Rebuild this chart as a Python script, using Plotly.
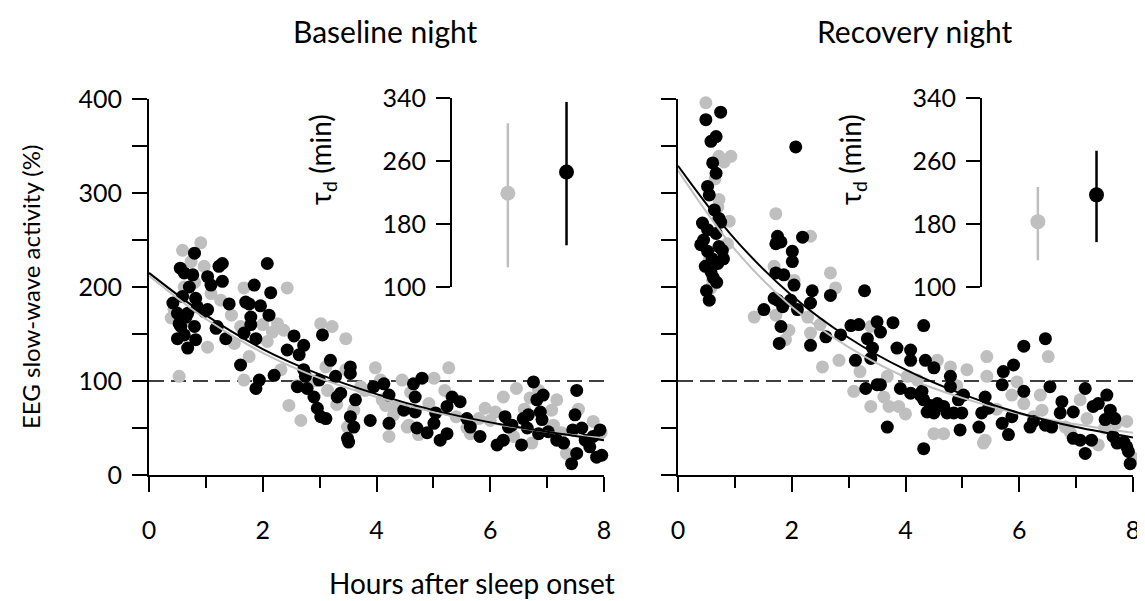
import plotly.graph_objects as go

# ---------------- data ----------------
# Baseline night, black series (hours, SWA %)
base_black_x = [0.80,0.55,0.62,0.77,0.71,1.03,1.09,1.23,1.29,1.29,2.08,1.85,2.14,0.42,0.59,0.82,0.85,1.03,0.50,0.68,
                0.53,0.80,1.41,1.70,1.76,1.96,2.11,1.79,1.79,1.18,0.50,0.62,0.82,1.67,1.88,1.35,2.55,2.72,3.05,
                0.65,0.56,0.68,0.97,1.20,1.61,1.94,1.88,2.20,2.43,2.64,3.19,2.72,2.75,2.99,2.61,2.78,2.90,3.28,
                3.54,3.54,3.31,3.37,3.63,2.96,3.02,3.11,3.54,3.60,3.49,3.89,3.95,4.13,4.22,4.65,4.80,4.68,4.48,
                4.22,4.71,4.89,5.04,5.01,3.51,4.68,5.12,5.24,5.33,5.47,5.59,5.24,5.65,5.82,6.12,6.23,6.26,6.32,
                6.38,6.55,6.58,6.65,6.67,6.76,6.82,6.93,6.88,6.91,6.85,7.02,7.17,7.29,7.43,7.49,7.52,7.45,7.52,
                7.67,7.75,7.87,7.96,7.93,7.81,7.61]
base_black_y = [236,220,215,213,200,211,202,222,225,206,225,202,194,183,190,188,179,176,172,172,
                161,158,182,184,182,180,170,168,160,156,145,149,144,151,145,145,148,138,149,
                168,158,135,174,158,117,101,92,106,133,128,122,112,105,101,94,92,83,105,
                115,108,83,87,80,71,62,60,62,51,39,58,94,97,85,97,103,83,69,
                55,50,45,66,55,35,67,37,73,83,78,60,44,51,41,32,37,62,51,
                53,32,60,50,64,99,80,85,67,59,44,46,37,34,12,64,90,48,23,
                37,30,19,21,48,41,50]

# Baseline night, grey series
base_grey_x = [0.59,0.91,0.74,0.97,0.62,1.09,1.26,0.39,0.65,1.67,2.43,1.61,2.26,2.37,2.17,3.02,1.03,2.08,0.44,
               0.53,1.76,1.67,2.32,2.46,2.67,3.22,3.46,3.11,3.14,3.46,3.60,3.72,3.98,4.07,4.16,4.45,4.30,5.01,
               4.92,4.54,3.49,5.27,4.22,4.57,4.74,4.10,4.36,5.59,6.46,6.23,5.91,6.09,6.70,6.85,7.17,7.08,7.11,
               6.73,7.34,7.81,5.65,6.41,7.55,7.95,7.25,6.00,5.80,2.00,1.45,0.80,1.50,2.90,3.80,4.60,5.40,5.20,
               6.60,3.30,2.60]
base_grey_y = [239,247,227,222,200,193,186,167,165,199,199,158,161,154,152,161,136,142,176,
               105,126,101,112,74,58,158,145,115,90,112,69,94,114,101,74,101,64,103,
               76,51,51,114,41,53,43,80,73,50,92,83,71,67,82,90,80,69,53,
               34,23,57,44,41,70,45,45,58,60,160,170,205,140,100,90,88,62,90,
               70,75,95]

# Recovery night, black series
rec_black_x = [0.75,0.49,0.67,0.58,2.07,0.61,0.67,0.52,0.55,0.64,0.72,0.43,0.52,0.67,0.72,0.52,0.78,0.58,0.55,
               1.75,1.72,2.19,2.01,2.01,1.72,1.86,2.04,1.69,2.36,2.68,3.28,0.75,1.81,1.75,1.51,1.84,1.98,2.10,
               2.33,1.81,1.78,2.33,2.60,2.86,3.04,3.18,3.33,3.42,3.12,3.39,3.50,3.56,3.78,3.85,4.09,4.09,4.32,
               4.35,4.50,3.30,3.50,3.56,3.91,4.09,4.26,4.32,4.44,4.56,4.67,4.38,4.50,4.73,4.85,4.99,4.79,4.79,
               5.02,4.96,3.68,4.29,4.93,5.29,5.34,5.40,4.32,6.46,6.08,5.90,5.72,5.70,6.08,6.54,5.46,5.70,5.87,
               5.81,6.19,6.25,6.46,6.57,6.72,6.75,6.95,6.95,7.07,7.16,7.16,7.27,7.30,7.39,7.54,7.60,7.68,7.51,
               7.65,7.72,7.84,7.89,7.95,7.92,0.45,0.60,0.70,0.48,0.80,0.62,0.40,0.50,0.68]
rec_black_y = [386,378,360,355,349,332,321,307,298,282,273,268,261,257,243,238,239,216,186,
               254,246,253,238,227,215,213,202,188,196,191,196,269,248,186,176,179,186,176,
               183,158,140,138,147,149,159,160,145,135,122,124,163,152,162,135,133,122,159,
               122,114,92,96,96,92,87,85,80,74,76,73,67,66,66,66,66,105,94,
               85,48,51,89,80,51,66,83,28,145,137,117,110,96,89,94,71,55,62,
               43,51,57,53,51,66,78,67,39,37,92,23,37,73,76,85,69,60,59,
               41,34,35,30,12,25,250,230,225,222,230,210,245,196,205]

# Recovery night, grey series
rec_grey_x = [0.49,0.72,0.93,0.81,0.72,0.70,0.87,0.55,0.61,0.58,1.72,2.33,1.69,2.68,2.77,1.34,1.72,1.95,2.33,
              2.54,2.83,2.28,2.04,1.89,3.09,3.39,3.62,3.71,3.88,3.68,4.03,4.56,4.79,4.50,4.67,5.08,5.43,5.43,
              5.37,3.39,4.21,6.51,5.87,6.08,6.37,6.40,6.25,5.40,5.96,7.07,6.81,7.39,7.89,8.00,7.77,7.19,0.65,
              0.90,2.50,3.20,4.00,4.90,5.60,6.90,7.50,7.70]
rec_grey_y = [396,339,339,333,293,285,246,229,207,199,278,254,222,215,199,168,170,154,151,
              115,122,168,207,144,89,73,83,73,73,105,105,122,115,44,44,112,126,105,
              34,158,101,126,85,76,85,69,62,37,99,80,51,32,57,18,35,60,315,
              270,160,110,65,95,70,45,50,55]

# Fitted decay curves, values read at whole hours
fit_hours = [0, 1, 2, 3, 4, 5, 6, 7, 8]
base_fit_black = [215, 170, 134, 107, 86, 69, 56, 46, 37]
base_fit_grey = [212, 166, 130, 103, 83, 67, 55, 46, 39]
rec_fit_black = [329, 251, 191, 146, 112, 86, 66, 51, 40]
rec_fit_grey = [324, 240, 179, 136, 104, 82, 65, 54, 45]

ref_hours = [0, 8]
ref_level = [100, 100]

# Inset: decay time constant tau_d (min), mean with lower/upper bounds
inset_pos = [1.0, 2.05]
base_tau = [219, 246]
base_tau_low = [125, 153]
base_tau_high = [308, 335]
rec_tau = [183, 217]
rec_tau_low = [134, 157]
rec_tau_high = [227, 273]

GREY = "#bfbfbf"
BLACK = "#000000"
FONT = "Lato"

# page body adds an 8 px margin, so the figure fills the rest of the window
OFF = 8
W, H = 1145 - OFF, 601 - OFF
def fx(px):
    return (px - OFF) / W
def fy(py):
    return 1 - (py - OFF) / H

fig = go.Figure()

def add_panel(xa, ya, bx, by, gx, gy, fb, fg):
    fig.add_trace(go.Scatter(x=ref_hours, y=ref_level, mode="lines",
                             line=dict(color=BLACK, width=1.4, dash="15px,7px"),
                             xaxis=xa, yaxis=ya, showlegend=False, hoverinfo="skip"))
    fig.add_trace(go.Scatter(x=gx, y=gy, mode="markers", cliponaxis=False,
                             marker=dict(color=GREY, size=13, line=dict(width=0)),
                             xaxis=xa, yaxis=ya, showlegend=False))
    fig.add_trace(go.Scatter(x=bx, y=by, mode="markers", cliponaxis=False,
                             marker=dict(color=BLACK, size=13, line=dict(width=0)),
                             xaxis=xa, yaxis=ya, showlegend=False))
    fig.add_trace(go.Scatter(x=fit_hours, y=fg, mode="lines", line_shape="spline",
                             line=dict(color=GREY, width=2),
                             xaxis=xa, yaxis=ya, showlegend=False))
    fig.add_trace(go.Scatter(x=fit_hours, y=fb, mode="lines", line_shape="spline",
                             line=dict(color=BLACK, width=2),
                             xaxis=xa, yaxis=ya, showlegend=False))

add_panel("x", "y", base_black_x, base_black_y, base_grey_x, base_grey_y, base_fit_black, base_fit_grey)
add_panel("x2", "y2", rec_black_x, rec_black_y, rec_grey_x, rec_grey_y, rec_fit_black, rec_fit_grey)

def add_inset(xa, ya, tau, lo, hi):
    for i, col in enumerate([GREY, BLACK]):
        fig.add_trace(go.Scatter(
            x=[inset_pos[i]], y=[tau[i]], mode="markers", cliponaxis=False,
            marker=dict(color=col, size=15, line=dict(width=0)),
            error_y=dict(type="data", symmetric=False,
                         array=[hi[i] - tau[i]], arrayminus=[tau[i] - lo[i]],
                         color=col, thickness=2.5, width=0),
            xaxis=xa, yaxis=ya, showlegend=False))

add_inset("x3", "y3", base_tau, base_tau_low, base_tau_high)
add_inset("x4", "y4", rec_tau, rec_tau_low, rec_tau_high)

tickfont = dict(family=FONT, size=25, color=BLACK)
y_dom = [fy(475), fy(99)]
main_x = dict(range=[0, 8], showline=True, linecolor=BLACK, linewidth=2,
              ticks="outside", tickvals=[0, 2, 4, 6, 8], ticklen=15, tickwidth=2, tickcolor=BLACK,
              minor=dict(dtick=1, ticks="outside", ticklen=11, tickwidth=2, tickcolor=BLACK),
              showgrid=False, zeroline=False, tickfont=tickfont, ticklabelstandoff=17,
              automargin=False)
main_y = dict(range=[0, 400], showline=True, linecolor=BLACK, linewidth=2,
              ticks="outside", dtick=100, ticklen=15, tickwidth=2, tickcolor=BLACK,
              minor=dict(dtick=50, ticks="outside", ticklen=15, tickwidth=2, tickcolor=BLACK),
              showgrid=False, zeroline=False, tickfont=tickfont, domain=y_dom, automargin=False,
              ticklabelstandoff=5)

inset_y = dict(range=[100, 340], tickvals=[100, 180, 260, 340], showline=True, linecolor=BLACK,
               linewidth=2, ticks="outside", ticklen=14, tickwidth=2, tickcolor=BLACK,
               showgrid=False, zeroline=False, tickfont=tickfont, domain=[fy(287), fy(98)],
               automargin=False, ticklabelstandoff=5)
inset_x = dict(range=[0, 2.9], visible=False, showgrid=False, zeroline=False, automargin=False)

def label(text, px, py, size, angle=0):
    return dict(text=text, x=fx(px), y=fy(py), xref="paper", yref="paper",
                xanchor="center", yanchor="middle", showarrow=False, textangle=angle,
                font=dict(family=FONT, size=size, color=BLACK))

fig.update_layout(
    width=W, height=H, margin=dict(l=0, r=0, t=0, b=0, pad=0, autoexpand=False),
    paper_bgcolor="white", plot_bgcolor="rgba(0,0,0,0)",
    font=dict(family=FONT, color=BLACK),
    xaxis=dict(main_x, domain=[fx(149), fx(604)], anchor="y"),
    yaxis=dict(main_y, anchor="x"),
    xaxis2=dict(main_x, domain=[fx(678), fx(1133)], anchor="y2"),
    yaxis2=dict(main_y, anchor="x2", showticklabels=False),
    xaxis3=dict(inset_x, domain=[fx(452), fx(614)], anchor="y3"),
    yaxis3=dict(inset_y, anchor="x3"),
    xaxis4=dict(inset_x, domain=[fx(982), fx(1144)], anchor="y4"),
    yaxis4=dict(inset_y, anchor="x4"),
    annotations=[
        label("Baseline night", 385, 31, 30),
        label("Recovery night", 915, 31, 30),
        label("EEG slow-wave activity (%)", 30, 287, 24, -90),
        label("Hours after sleep onset", 472, 583, 28),
        label("τ<sub>d</sub> (min)", 322, 160, 28, -90),
        label("τ<sub>d</sub> (min)", 852, 160, 28, -90),
    ],
)

fig.write_html("out.html")
